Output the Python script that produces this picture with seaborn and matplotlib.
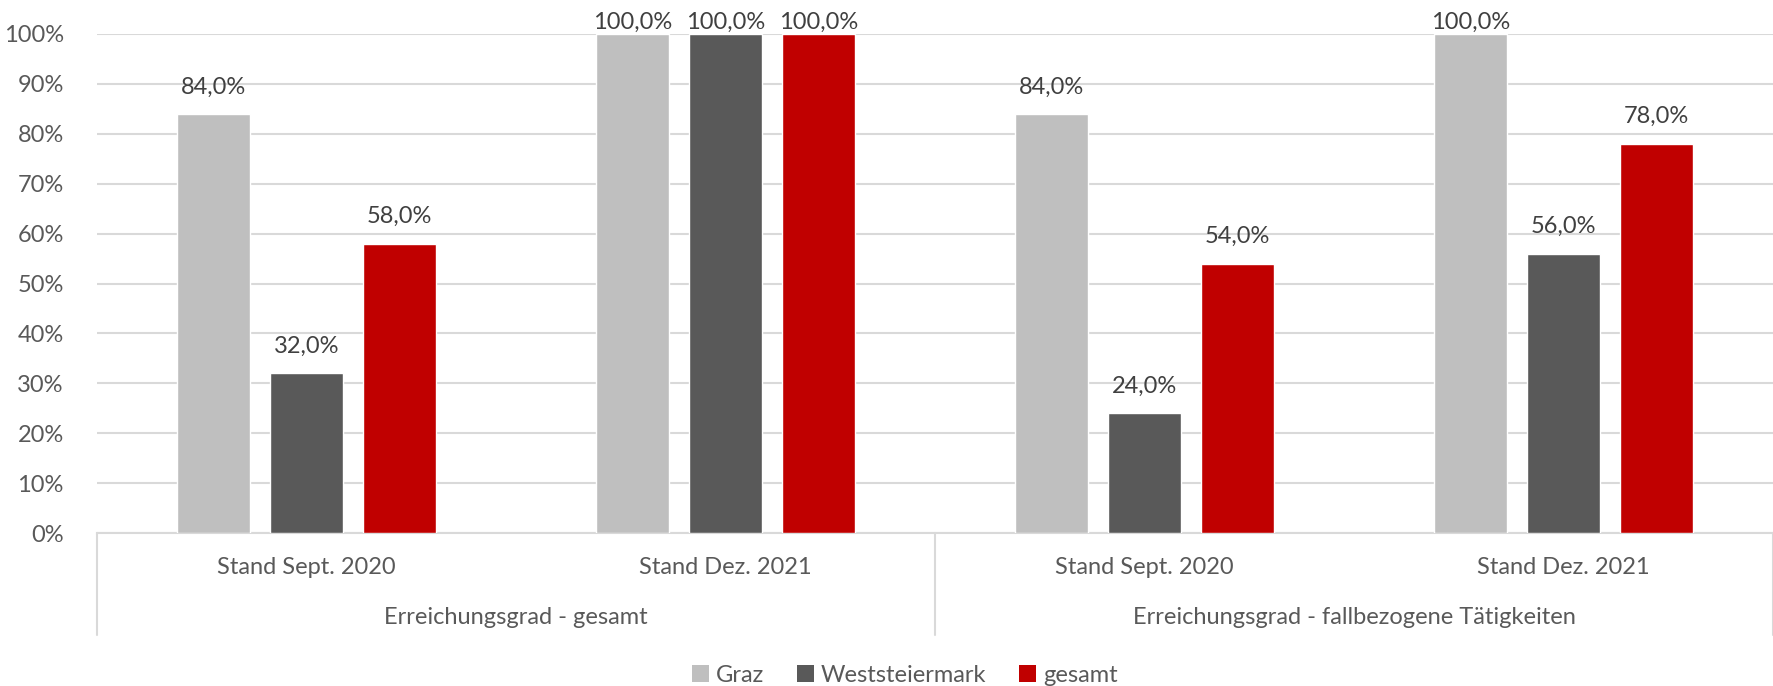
import matplotlib
matplotlib.use("Agg")
import matplotlib.pyplot as plt
import seaborn as sns
import pandas as pd
from matplotlib.patches import Patch
from matplotlib.lines import Line2D

categories = ["Stand Sept. 2020", "Stand Dez. 2021", "Stand Sept. 2020", "Stand Dez. 2021"]
groups = ["Erreichungsgrad - gesamt", "Erreichungsgrad - fallbezogene Tätigkeiten"]
series = ["Graz", "Weststeiermark", "gesamt"]
graz = [84.0, 100.0, 84.0, 100.0]
weststeiermark = [32.0, 100.0, 24.0, 56.0]
gesamt = [58.0, 100.0, 54.0, 78.0]
yticks = [0, 10, 20, 30, 40, 50, 60, 70, 80, 90, 100]

colors = ["#bfbfbf", "#595959", "#c00000"]
text_color = "#595959"
grid_color = "#d9d9d9"
FS = 17

sns.set_theme(style="white")
plt.rcParams["font.family"] = ["Lato", "DejaVu Sans"]

keys = [f"c{i}" for i in range(len(categories))]
rows = []
for s, vals in zip(series, [graz, weststeiermark, gesamt]):
    for k, v in zip(keys, vals):
        rows.append({"Kategorie": k, "Region": s, "Wert": v / 100.0})
df = pd.DataFrame(rows)

W, H = 1773, 686
fig = plt.figure(figsize=(W / 100, H / 100), dpi=100)
left, right = 97 / W, 1.0
bottom, top = 1 - 533 / H, 1 - 34 / H
ax = fig.add_axes([left, bottom, right - left, top - bottom])

sns.barplot(data=df, x="Kategorie", y="Wert", hue="Region", order=keys,
            hue_order=series, palette=colors, width=0.666, gap=0.215,
            saturation=1, errorbar=None, legend=False, ax=ax, zorder=3)

ax.set_xlim(-0.5, len(categories) - 0.5)
ax.set_ylim(0, 1)
ax.set_yticks([t / 100 for t in yticks])
ax.set_yticklabels([f"{t}%" for t in yticks], color=text_color, fontsize=FS)
ax.tick_params(axis="y", length=0, pad=24)
ax.set_xticks([])
ax.set_xlabel("")
ax.set_ylabel("")
for sp in ["left", "right", "top"]:
    ax.spines[sp].set_visible(False)
ax.spines["bottom"].set_color(grid_color)
ax.spines["bottom"].set_linewidth(1.5)
ax.yaxis.grid(True, color=grid_color, linewidth=1.5, zorder=0)
ax.set_axisbelow(True)

# data labels
for cont in ax.containers:
    for bar in cont:
        v = bar.get_height()
        xc = bar.get_x() + bar.get_width() / 2
        y = min(v + 0.054, 1.024)
        ax.text(xc, y, f"{v*100:.1f}%".replace(".", ","), ha="center", va="center",
                fontsize=FS, color="#404040", clip_on=False)

# category labels and group labels
trans = ax.get_xaxis_transform()
px = 1 / (533 - 34)  # axes fraction per pixel
for i, c in enumerate(categories):
    ax.text(i, -35 * px, c, transform=trans, ha="center", va="center",
            fontsize=FS, color=text_color)
for g_i, g in enumerate(groups):
    ax.text(2 * g_i + 0.5, -85 * px, g, transform=trans, ha="center", va="center",
            fontsize=FS, color=text_color)
for xv in [-0.5, 1.5, 3.5]:
    ax.add_line(Line2D([xv, xv], [0, -(635 - 533) * px], transform=trans,
                       color=grid_color, linewidth=1.5, clip_on=False))

handles = [Patch(facecolor=c, edgecolor="none") for c in colors]
fig.legend(handles, series, loc="center", bbox_to_anchor=(905 / W, 1 - 675 / H),
           ncol=3, frameon=False, fontsize=FS, labelcolor=text_color,
           handlelength=0.7, handleheight=0.7, handletextpad=0.3, columnspacing=1.4,
           borderpad=0, borderaxespad=0)

fig.savefig("out.png", dpi=100)
